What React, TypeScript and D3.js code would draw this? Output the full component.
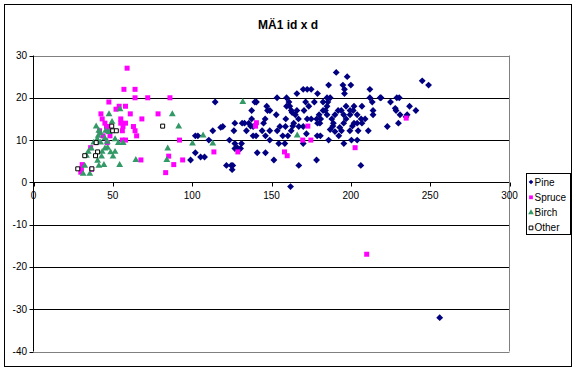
import React, { useEffect } from "react";
import * as d3 from "d3";

// [d, id] pairs
const pine: [number, number][] = [
  [190.8, 26], [197.7, 25], [186, 23], [195, 23], [200, 23], [245, 24], [249, 23],
  [170, 22], [172.5, 22], [175, 22], [196, 22], [212, 22],
  [166, 21], [179, 21], [196, 21],
  [153.5, 20], [159.5, 20], [185, 20], [187, 20], [212, 20], [219, 20], [229, 20], [230.5, 20], [218.5, 20],
  [114.5, 19], [139.5, 19], [140.5, 19], [161, 19], [171.5, 19], [177, 19], [182.5, 19], [185.5, 19], [213.5, 19], [225, 19],
  [147, 18], [159.5, 18], [161.5, 18], [173.5, 18], [185, 18], [197, 18], [202, 18], [207, 18], [237, 18], [228, 17.5],
  [137.5, 17], [147.5, 17], [149, 17], [162.5, 17], [166, 17], [170.5, 17], [182.5, 17], [184, 17], [192, 17], [194, 17],
  [199.5, 17], [201.5, 17], [214, 17], [228.5, 17], [241, 17],
  [153, 16], [165, 16], [180, 16], [185, 16], [190, 16], [195.5, 16], [199.5, 16], [204, 16], [214, 16], [231, 16],
  [235.5, 16], [234.8, 15.5], [163, 16.5],
  [137.5, 15], [146, 15], [159, 15], [167, 15], [172.5, 15], [175, 15], [178.5, 15], [181, 15], [206.5, 15], [209, 15],
  [188, 15], [197, 15],
  [126.9, 14], [131.5, 14], [133, 14], [135.7, 14], [145, 14], [164, 14], [179, 14], [180.5, 14], [189, 14], [195.5, 14],
  [202, 14], [204, 14], [207, 14], [230, 14],
  [118, 13], [119.3, 13.2], [136.8, 13.3], [138.4, 13.2], [155.3, 13.2], [158.8, 13.2], [163.4, 13.3], [167.2, 13.2],
  [170, 13.2], [188.7, 13.3], [201, 13.3], [223, 13.2], [193, 13],
  [113, 12.2], [126.3, 12.2], [134.2, 12.2], [144.1, 12.2], [148.9, 12.2], [153.6, 12.2], [162.4, 12.2], [194.1, 12.2],
  [199.4, 12.2], [204.6, 12.2], [211, 12.2], [187, 12.5], [190, 12],
  [102, 11], [103.6, 11], [138.4, 11], [140.3, 11], [146.2, 11], [157.1, 11], [160.3, 11], [178.8, 11], [180.8, 11],
  [192.4, 11], [172, 11.5],
  [110.5, 10], [123.5, 10], [148.9, 10], [200.4, 10], [204, 10], [186, 10],
  [154.6, 9.2], [158.4, 9.2], [170, 9.2], [195.6, 9.2], [126.9, 9.2], [131.1, 9.2],
  [128.4, 8.2], [126.9, 8], [130.5, 8],
  [102, 7], [141, 7], [146.2, 7],
  [105.3, 6], [107.8, 6],
  [99, 5.3], [151.5, 5.3], [178.4, 5.3],
  [121.6, 4], [124.6, 4], [125.6, 4], [167.2, 4], [206.3, 4],
  [125.2, 3], [162, -1], [256, -32],
];

const spruce: [number, number][] = [
  [59, 27], [57, 22], [64, 22], [64, 20], [72, 20], [86, 20], [47.5, 19], [54, 18], [58, 18], [52, 17.3],
  [42.5, 16.2], [61, 16.2], [78.5, 16.2], [43.3, 15], [45, 14], [55, 15], [58, 14], [55, 14], [68.3, 15],
  [46, 13.2], [47.6, 13.2], [46.7, 12.2], [56.4, 13.2], [56, 12.2], [63, 13.2], [64, 12.2], [65, 11],
  [41.6, 12.2], [48.2, 11], [43.8, 11], [56, 10], [58, 10], [92, 10], [46.5, 9.4], [39.5, 9.4], [36, 8.2],
  [67.7, 5.3], [85.2, 6.2], [94, 5.3], [88.4, 4.2], [83.3, 2.3], [30.7, 4.2], [30.2, 3.1], [29.8, 2.4], [36.6, 3.1],
  [113.7, 7.2], [128.8, 7.2], [140.5, 14.1], [139.9, 13.3], [158.2, 7.2], [159.9, 6.3], [172.9, 13.3],
  [169.7, 10], [174.8, 10], [202.7, 8.2], [234.9, 15.2], [210, -17],
];

const birch: [number, number][] = [
  [54.5, 17.3], [47.6, 16.1], [87.5, 16.1], [91.5, 13.2], [39.5, 13.2], [49.5, 14.3], [41.2, 12.2], [42.3, 11.6],
  [40.8, 11], [45.5, 12.2], [47.6, 11.9], [40.2, 10.2], [42.3, 9.4], [38, 9.4], [45, 10.4], [46.5, 9.6], [51.4, 10.2],
  [53.5, 9.3], [56.5, 9.3], [36.4, 8], [45, 8], [46.7, 8.2], [34.5, 7.2], [43.3, 7.2], [48.6, 7.1], [51.4, 7.2],
  [33.4, 6.3], [42.9, 6.1], [50.1, 6.1], [40.4, 5.1], [41.2, 3.9], [44.4, 4.1], [54.3, 4.1], [64.5, 5.3], [84.6, 8],
  [84, 5.3], [100.2, 9.2], [31.3, 2], [35.5, 2], [32.3, 3.9], [106.9, 11.1], [113, 9.2], [131.9, 19], [166.2, 11.1],
];

const other: [number, number][] = [
  [49.3, 13.3], [49.9, 12.2], [52.2, 12.2], [81.4, 13.3], [39.5, 9.4], [40.4, 7.2], [32.3, 6.3], [39.1, 6.3],
  [27.9, 3.2], [36.8, 3.2],
];

const xTicks = [0, 50, 100, 150, 200, 250, 300];
const yTicks = [30, 20, 10, 0, -10, -20, -30, -40];
const seriesNames = ["Pine", "Spruce", "Birch", "Other"];

const W = 578;
const H = 372;
const font = "Arial, 'Liberation Sans', sans-serif";

const x = d3.scaleLinear().domain([0, 300]).range([33.5, 509.5]);
const y = d3.scaleLinear().domain([-40, 30]).range([351.5, 55.5]);

const diamond = d3.symbol().type(d3.symbolDiamond2).size(30)()!;
const square = d3.symbol().type(d3.symbolSquare).size(25)()!;
const triangle = d3.symbol().type(d3.symbolTriangle).size(20)()!;
const box = d3.symbol().type(d3.symbolSquare).size(16)()!;

const markers = [
  { path: diamond, fill: "#000080", stroke: "none" },
  { path: square, fill: "#FF00FF", stroke: "none" },
  { path: triangle, fill: "#339966", stroke: "none" },
  { path: box, fill: "#FFFFFF", stroke: "#000000" },
];

const allSeries = [pine, spruce, birch, other];

export default function App() {
  useEffect(() => {
    document.body.style.margin = "0";
  }, []);

  return (
    <svg width={W} height={H} style={{ display: "block", background: "#fff" }} fontFamily={font}>
      <rect x={4.5} y={4.5} width={567} height={362} fill="#fff" stroke="#000" />
      <text x={288} y={29} textAnchor="middle" fontSize={12} fontWeight="bold">
        MÄ1 id x d
      </text>

      {/* gridlines */}
      {yTicks.map((t) => (
        <line
          key={t}
          x1={x(0)}
          x2={x(300)}
          y1={Math.round(y(t)) + 0.5}
          y2={Math.round(y(t)) + 0.5}
          stroke={t === 30 || t === -40 ? "#808080" : "#000"}
        />
      ))}
      <line x1={x(300)} x2={x(300)} y1={y(30)} y2={y(-40)} stroke="#808080" />
      <line x1={x(0)} x2={x(0)} y1={y(30)} y2={y(-40)} stroke="#000" />

      {/* y ticks */}
      {yTicks.map((t) => (
        <g key={"y" + t}>
          <line x1={x(0) - 4} x2={x(0)} y1={Math.round(y(t)) + 0.5} y2={Math.round(y(t)) + 0.5} stroke="#000" />
          <text x={27} y={y(t) + 3.5} textAnchor="end" fontSize={10}>
            {t}
          </text>
        </g>
      ))}

      {/* x ticks */}
      {xTicks.map((t) => (
        <g key={"x" + t}>
          <line
            x1={Math.round(x(t)) + 0.5}
            x2={Math.round(x(t)) + 0.5}
            y1={Math.round(y(0)) + 0.5}
            y2={Math.round(y(0)) + 4.5}
            stroke="#000"
          />
          <text x={x(t)} y={y(0) + 17} textAnchor="middle" fontSize={10}>
            {t}
          </text>
        </g>
      ))}

      {/* points */}
      {allSeries.map((s, i) => (
        <g key={"s" + i}>
          {s.map(([d, v], j) => (
            <path
              key={j}
              d={markers[i].path}
              transform={`translate(${x(d)},${y(v)})`}
              fill={markers[i].fill}
              stroke={markers[i].stroke}
              strokeWidth={1}
            />
          ))}
        </g>
      ))}

      {/* legend */}
      <rect x={526.5} y={173.5} width={44} height={61} fill="#fff" stroke="#000" />
      {seriesNames.map((n, i) => (
        <g key={n} transform={`translate(0,${182 + i * 15.3})`}>
          <path
            d={d3.symbol().type([d3.symbolDiamond2, d3.symbolSquare, d3.symbolTriangle, d3.symbolSquare][i]).size(14)()!}
            transform="translate(531,0)"
            fill={markers[i].fill}
            stroke={markers[i].stroke}
          />
          <text x={534.5} y={3.5} fontSize={10}>
            {n}
          </text>
        </g>
      ))}
    </svg>
  );
}
